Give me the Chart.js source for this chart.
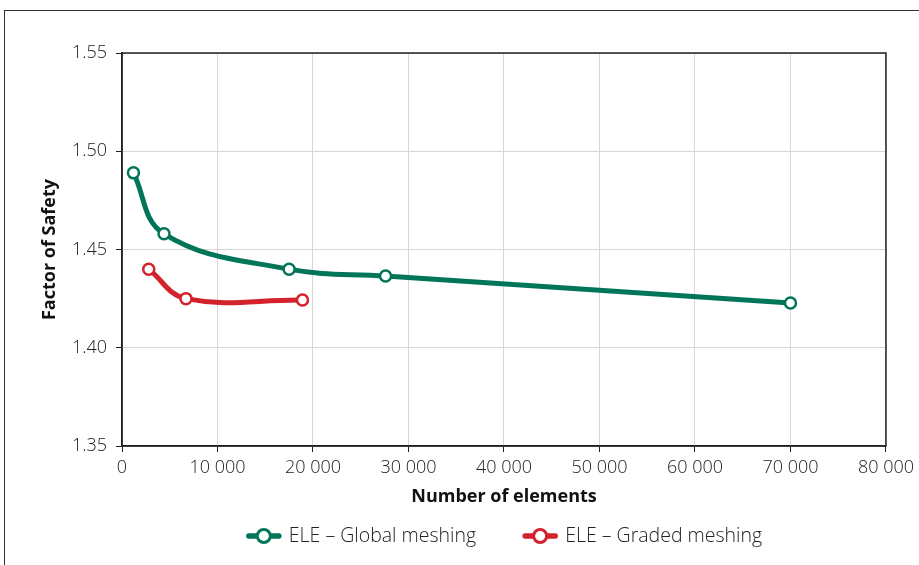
<!DOCTYPE html>
<html>
<head>
<meta charset="utf-8">
<script src="https://cdn.jsdelivr.net/npm/chart.js@4/dist/chart.umd.min.js"></script>
<style>
html, body { margin: 0; padding: 0; background: #fff; overflow: hidden; }
#wrap { position: relative; width: 919px; height: 565px; overflow: hidden; }
#frame { position: absolute; left: 4px; top: 10px; width: 1000px; height: 1000px; border-left: 1px solid #333; border-top: 1px solid #333; }
canvas { position: absolute; left: 0; top: 0; }
</style>
</head>
<body>
<div id="wrap">
  <div id="frame"></div>
  <canvas id="myChart" width="919" height="565"></canvas>
</div>
<script>
// values
var globalElements = [1200, 4400, 17500, 27600, 70000];
var globalFos      = [1.489, 1.458, 1.440, 1.4365, 1.4228];
var gradedElements = [2800, 6700, 18900];
var gradedFos      = [1.440, 1.425, 1.4243];

var seriesLabels = ["ELE \u2013 Global meshing", "ELE \u2013 Graded meshing"];
var seriesColors = ["#007558", "#d3222b"];

var xTitle = "Number of elements";
var yTitle = "Factor of Safety";

var fontFamily = "'Open Sans', 'Noto Sans', sans-serif";

function toPoints(xs, ys) {
    return xs.map(function (x, i) { return { x: x, y: ys[i] }; });
}

function withSpaces(v) {
    return String(v).replace(/\B(?=(\d{3})+(?!\d))/g, " ");
}

// full border round the plot area
var plotBorder = {
    id: "plotBorder",
    beforeDatasetsDraw: function (chart) {
        var a = chart.chartArea, ctx = chart.ctx;
        ctx.save();
        ctx.strokeStyle = "#222";
        ctx.lineWidth = 1.5;
        ctx.strokeRect(a.left, a.top, a.right - a.left, a.bottom - a.top);
        ctx.restore();
    }
};

// legend with a line + open circle marker
var lineLegend = {
    id: "lineLegend",
    afterDraw: function (chart) {
        var ctx = chart.ctx, a = chart.chartArea;
        var markW = 36, gapText = 7, gapItem = 46, y = 536;
        ctx.save();
        ctx.font = "300 19.5px " + fontFamily;
        var widths = chart.data.datasets.map(function (d) { return ctx.measureText(d.label).width; });
        var total = 0;
        widths.forEach(function (w, i) { total += markW + gapText + w + (i > 0 ? gapItem : 0); });
        var x = (a.left + a.right) / 2 - total / 2;
        chart.data.datasets.forEach(function (d, i) {
            ctx.strokeStyle = d.borderColor;
            ctx.lineWidth = 5.5;
            ctx.lineCap = "round";
            ctx.beginPath();
            ctx.moveTo(x + 3, y);
            ctx.lineTo(x + markW - 3, y);
            ctx.stroke();
            ctx.beginPath();
            ctx.arc(x + markW / 2, y, 6.5, 0, Math.PI * 2);
            ctx.fillStyle = "#fff";
            ctx.fill();
            ctx.lineWidth = 3;
            ctx.stroke();
            ctx.fillStyle = "#222";
            ctx.textBaseline = "middle";
            ctx.textAlign = "left";
            ctx.fillText(d.label, x + markW + gapText, y);
            x += markW + gapText + widths[i] + gapItem;
        });
        ctx.restore();
    }
};

var ctx = document.getElementById("myChart");
var myChart = new Chart(ctx, {
    type: "line",
    data: {
        datasets: [
            {
                label: seriesLabels[0],
                data: toPoints(globalElements, globalFos),
                borderColor: seriesColors[0],
                borderWidth: 5,
                tension: 0.4,
                pointRadius: 5.5,
                pointBorderWidth: 2.5,
                pointBackgroundColor: "#fff",
                pointBorderColor: seriesColors[0]
            },
            {
                label: seriesLabels[1],
                data: toPoints(gradedElements, gradedFos),
                borderColor: seriesColors[1],
                borderWidth: 5,
                tension: 0.4,
                pointRadius: 5.5,
                pointBorderWidth: 2.5,
                pointBackgroundColor: "#fff",
                pointBorderColor: seriesColors[1]
            }
        ]
    },
    options: {
        responsive: false,
        animation: false,
        layout: { padding: { left: 0, top: 53, right: 32, bottom: 50 } },
        plugins: {
            legend: { display: false },
            tooltip: { enabled: false }
        },
        scales: {
            x: {
                type: "linear",
                min: 0,
                max: 80000,
                afterFit: function (s) { s.height = 69; },
                ticks: {
                    stepSize: 10000,
                    padding: 5,
                    color: "#222",
                    font: { family: fontFamily, size: 18, weight: 300 },
                    callback: function (v) { return withSpaces(v); }
                },
                grid: { color: "#d6d6d6", lineWidth: 1, tickColor: "#222", tickLength: 6 },
                border: { color: "#222", width: 1.5 },
                title: {
                    display: true,
                    text: xTitle,
                    color: "#111",
                    font: { family: fontFamily, size: 18, weight: "bold" },
                    padding: { top: 0, bottom: 7 }
                }
            },
            y: {
                min: 1.35,
                max: 1.55,
                afterFit: function (s) { s.width = 122; },
                ticks: {
                    stepSize: 0.05,
                    padding: 9,
                    color: "#222",
                    font: { family: fontFamily, size: 18, weight: 300 },
                    callback: function (v) { return v.toFixed(2); }
                },
                grid: { color: "#d6d6d6", lineWidth: 1, tickColor: "#222", tickLength: 6 },
                border: { color: "#222", width: 1.5 },
                title: {
                    display: true,
                    text: yTitle,
                    color: "#111",
                    font: { family: fontFamily, size: 18, weight: "bold" },
                    padding: { top: 39, bottom: 0 }
                }
            }
        }
    },
    plugins: [plotBorder, lineLegend]
});
</script>
</body>
</html>
